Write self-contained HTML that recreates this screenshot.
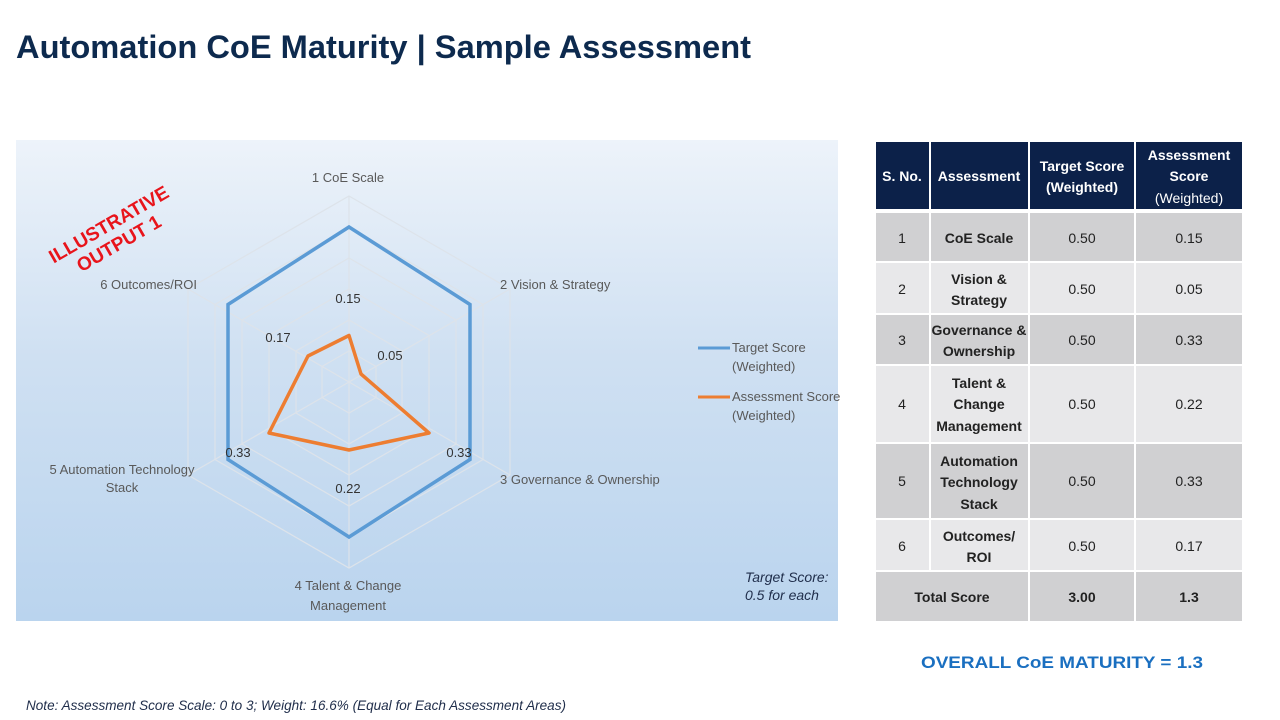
<!DOCTYPE html>
<html><head><meta charset="utf-8"><style>
html,body{margin:0;padding:0;background:#fff;}
svg{display:block;}
text{font-family:"Liberation Sans",Arial,sans-serif;}
</style></head><body>
<svg width="1280" height="720" viewBox="0 0 1280 720" xmlns="http://www.w3.org/2000/svg">
<defs>
<linearGradient id="bg" x1="0" y1="0" x2="0" y2="1">
<stop offset="0" stop-color="#edf3fa"/>
<stop offset="0.45" stop-color="#cfe0f2"/>
<stop offset="1" stop-color="#bad4ee"/>
</linearGradient>
</defs>
<text x="16" y="58" font-size="32" font-weight="bold" fill="#0d2a4e" textLength="735" lengthAdjust="spacingAndGlyphs">Automation CoE Maturity | Sample Assessment</text>

<rect x="16" y="140" width="822" height="481" fill="url(#bg)"/>

<g fill="none" stroke="#dde3ea" stroke-width="1.2">
<polygon points="349,196 510,289 510,475 349,568 188,475 188,289"/>
<polygon points="349,227 483,304.5 483,459.5 349,537 215,459.5 215,304.5"/>
<polygon points="349,258 456,320 456,444 349,506 242,444 242,320"/>
<polygon points="349,289 429,335.5 429,428.5 349,475 269,428.5 269,335.5"/>
<polygon points="349,320 402,351 402,413 349,444 296,413 296,351"/>
<polygon points="349,351 376,366.5 376,397.5 349,413 322,397.5 322,366.5"/>
<line x1="349" y1="382" x2="349" y2="196"/><line x1="349" y1="382" x2="349" y2="568"/>
<line x1="349" y1="382" x2="510" y2="289"/><line x1="349" y1="382" x2="188" y2="475"/>
<line x1="349" y1="382" x2="510" y2="475"/><line x1="349" y1="382" x2="188" y2="289"/>
</g>
<polygon points="349,227 470,304.5 470,459.5 349,537 228,459.5 228,304.5" fill="none" stroke="#5b9bd5" stroke-width="3.5" stroke-linejoin="miter"/>
<polygon points="349,335.5 361,374 429,433 349,450 269,433 308,356" fill="none" stroke="#ed7d31" stroke-width="3.5" stroke-linejoin="round"/>

<g font-size="13" fill="#595959">
<text x="348" y="182" text-anchor="middle">1 CoE Scale</text>
<text x="500" y="289">2 Vision &amp; Strategy</text>
<text x="500" y="484">3 Governance &amp; Ownership</text>
<text x="348" y="590" text-anchor="middle">4 Talent &amp; Change</text>
<text x="348" y="610" text-anchor="middle">Management</text>
<text x="122" y="474" text-anchor="middle">5 Automation Technology</text>
<text x="122" y="492" text-anchor="middle">Stack</text>
<text x="197" y="289" text-anchor="end">6 Outcomes/ROI</text>
</g>
<g font-size="13" fill="#333">
<text x="348" y="303" text-anchor="middle">0.15</text>
<text x="390" y="360" text-anchor="middle">0.05</text>
<text x="459" y="457" text-anchor="middle">0.33</text>
<text x="348" y="493" text-anchor="middle">0.22</text>
<text x="238" y="457" text-anchor="middle">0.33</text>
<text x="278" y="342" text-anchor="middle">0.17</text>
</g>
<text transform="translate(112,230) rotate(-30)" font-size="19" font-weight="bold" fill="#e8141b" text-anchor="middle">ILLUSTRATIVE</text>
<text transform="translate(122,249) rotate(-30)" font-size="19" font-weight="bold" fill="#e8141b" text-anchor="middle">OUTPUT 1</text>

<line x1="698" y1="348" x2="730" y2="348" stroke="#5b9bd5" stroke-width="3"/>
<line x1="698" y1="397" x2="730" y2="397" stroke="#ed7d31" stroke-width="3"/>
<g font-size="13" fill="#595959">
<text x="732" y="352">Target Score</text>
<text x="732" y="371">(Weighted)</text>
<text x="732" y="401">Assessment Score</text>
<text x="732" y="420">(Weighted)</text>
</g>
<g font-size="14" font-style="italic" fill="#1f2d4a">
<text x="745" y="582">Target Score:</text>
<text x="745" y="600">0.5 for each</text>
</g>

<g>
<rect x="876" y="142" width="53" height="67" fill="#0c2149"/>
<rect x="931" y="142" width="97" height="67" fill="#0c2149"/>
<rect x="1030" y="142" width="104" height="67" fill="#0c2149"/>
<rect x="1136" y="142" width="106" height="67" fill="#0c2149"/>
</g>
<g font-size="14" font-weight="bold" fill="#fff" text-anchor="middle">
<text x="902" y="181">S. No.</text>
<text x="979" y="181">Assessment</text>
<text x="1082" y="171">Target Score</text>
<text x="1082" y="192">(Weighted)</text>
<text x="1189" y="160">Assessment</text>
<text x="1189" y="181">Score</text>
<text x="1189" y="203" font-weight="normal">(Weighted)</text>
</g>
<g>
<g fill="#d0d0d2">
<rect x="876" y="213" width="53" height="48"/><rect x="931" y="213" width="97" height="48"/><rect x="1030" y="213" width="104" height="48"/><rect x="1136" y="213" width="106" height="48"/>
<rect x="876" y="315" width="53" height="49"/><rect x="931" y="315" width="97" height="49"/><rect x="1030" y="315" width="104" height="49"/><rect x="1136" y="315" width="106" height="49"/>
<rect x="876" y="444" width="53" height="74"/><rect x="931" y="444" width="97" height="74"/><rect x="1030" y="444" width="104" height="74"/><rect x="1136" y="444" width="106" height="74"/>
<rect x="876" y="572" width="152" height="49"/><rect x="1030" y="572" width="104" height="49"/><rect x="1136" y="572" width="106" height="49"/>
</g>
<g fill="#e8e8ea">
<rect x="876" y="263" width="53" height="50"/><rect x="931" y="263" width="97" height="50"/><rect x="1030" y="263" width="104" height="50"/><rect x="1136" y="263" width="106" height="50"/>
<rect x="876" y="366" width="53" height="76"/><rect x="931" y="366" width="97" height="76"/><rect x="1030" y="366" width="104" height="76"/><rect x="1136" y="366" width="106" height="76"/>
<rect x="876" y="520" width="53" height="50"/><rect x="931" y="520" width="97" height="50"/><rect x="1030" y="520" width="104" height="50"/><rect x="1136" y="520" width="106" height="50"/>
</g>
</g>
<g font-size="14" fill="#222" text-anchor="middle">
<text x="902" y="243">1</text><text x="1082" y="243">0.50</text><text x="1189" y="243">0.15</text>
<text x="902" y="294">2</text><text x="1082" y="294">0.50</text><text x="1189" y="294">0.05</text>
<text x="902" y="345">3</text><text x="1082" y="345">0.50</text><text x="1189" y="345">0.33</text>
<text x="902" y="409">4</text><text x="1082" y="409">0.50</text><text x="1189" y="409">0.22</text>
<text x="902" y="486">5</text><text x="1082" y="486">0.50</text><text x="1189" y="486">0.33</text>
<text x="902" y="551">6</text><text x="1082" y="551">0.50</text><text x="1189" y="551">0.17</text>
</g>
<g font-size="14" font-weight="bold" fill="#222" text-anchor="middle">
<text x="979" y="243">CoE Scale</text>
<text x="979" y="284">Vision &amp;</text><text x="979" y="305">Strategy</text>
<text x="979" y="335">Governance &amp;</text><text x="979" y="356">Ownership</text>
<text x="979" y="388">Talent &amp;</text><text x="979" y="409">Change</text><text x="979" y="431">Management</text>
<text x="979" y="466">Automation</text><text x="979" y="487">Technology</text><text x="979" y="509">Stack</text>
<text x="979" y="541">Outcomes/</text><text x="979" y="562">ROI</text>
<text x="952" y="602">Total Score</text>
<text x="1082" y="602">3.00</text>
<text x="1189" y="602">1.3</text>
</g>

<text x="921" y="668" font-size="17" font-weight="bold" fill="#1a6fc0" textLength="282" lengthAdjust="spacingAndGlyphs">OVERALL CoE MATURITY = 1.3</text>
<text x="26" y="710" font-size="14" font-style="italic" fill="#1f2d4a" textLength="540" lengthAdjust="spacingAndGlyphs">Note: Assessment Score Scale: 0 to 3; Weight: 16.6% (Equal for Each Assessment Areas)</text>
</svg>
</body></html>
